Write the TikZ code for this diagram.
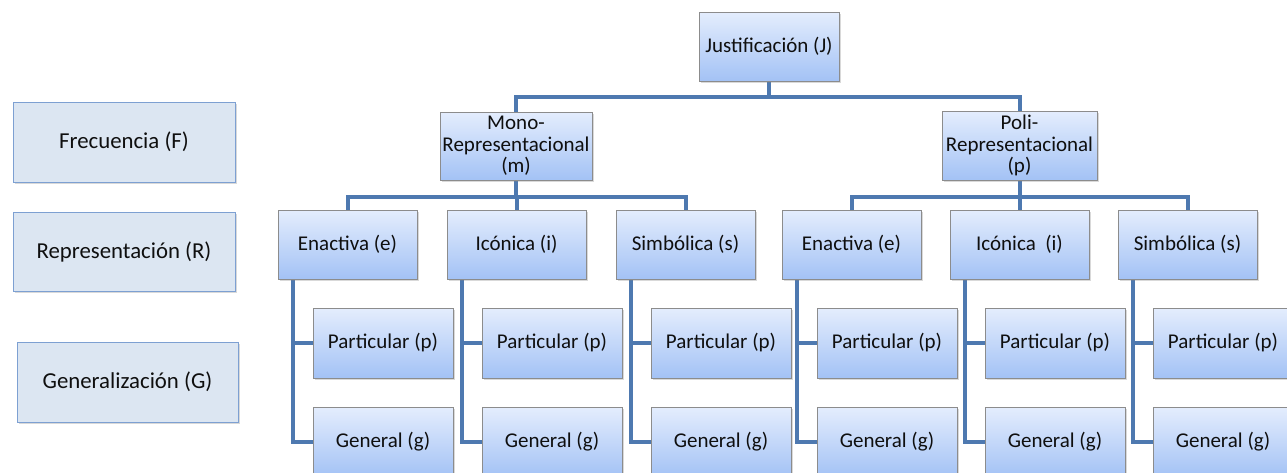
\documentclass[tikz,border=0pt]{standalone}
\usepackage{fontspec}
\setmainfont{Carlito}
\usetikzlibrary{shadows,backgrounds}
\definecolor{lineblue}{RGB}{78,121,176}
\definecolor{boxtop}{RGB}{228,237,253}
\definecolor{boxbot}{RGB}{163,194,245}
\definecolor{boxborder}{RGB}{140,140,140}
\definecolor{legfill}{RGB}{220,230,242}
\definecolor{legborder}{RGB}{125,160,210}
\definecolor{txt}{RGB}{15,15,15}
\begin{document}
\begin{tikzpicture}[x=1pt,y=-1pt,
  box/.style={draw=boxborder, line width=0.8pt, top color=boxtop, bottom color=boxbot,
    minimum width=139pt, minimum height=69pt, inner sep=0pt, align=center, text=txt,
    font=\fontsize{21}{21.5}\selectfont,
    drop shadow={shadow xshift=1.5pt, shadow yshift=-1.5pt, opacity=0.3}},
  legend/.style={draw=legborder, line width=1pt, fill=legfill,
    minimum width=222pt, minimum height=80pt, inner sep=0pt, align=center, text=txt,
    font=\fontsize{22.8}{24}\selectfont,
    drop shadow={shadow xshift=1.5pt, shadow yshift=-1.5pt, opacity=0.3}},
  conn/.style={draw=lineblue, line width=4pt}
]
\useasboundingbox (0,0) rectangle (1287,472);
\clip (0,0) rectangle (1287,472);

% legend
\node[legend] (F) at (124,142) {Frecuencia (F)};
\node[legend, minimum height=79pt] (R) at (124,251.5) {Representación (R)};
\node[legend, minimum width=221pt] (G) at (127.5,382) {Generalización (G)};

% top levels
\node[box, minimum width=140pt] (J) at (769,46.5) {Justificación (J)};
\node[box, minimum width=152pt, minimum height=68pt] (M) at (516,146) {Mono-\\Representacional\\(m)};
\node[box, minimum width=155pt] (P) at (1019.5,145.5) {Poli-\\Representacional\\(p)};

% level 2
\node[box] (E1) at (347.5,244.5) {Enactiva (e)};
\node[box] (I1) at (516.5,244.5) {Icónica (i)};
\node[box] (S1) at (685.5,244.5) {Simbólica (s)};
\node[box] (E2) at (851.5,244.5) {Enactiva (e)};
\node[box] (I2) at (1019.5,244.5) {Icónica~~(i)};
\node[box] (S2) at (1187.5,244.5) {Simbólica (s)};

% level 3
\foreach \p/\x in {E1/347.5,I1/516.5,S1/685.5,E2/851.5,I2/1019.5,S2/1187.5}{
  \node[box, minimum width=140pt, minimum height=70pt] (\p p) at (\x+35.5,343) {Particular (p)};
  \node[box, minimum width=140pt, minimum height=70pt] (\p g) at (\x+35.5,442) {General (g)};
}

\begin{scope}[on background layer]
\draw[conn] (J.south) -- ++(0,16) -| (M.north);
\draw[conn] (J.south) -- ++(0,16) -| (P.north);
\foreach \a in {E1,I1,S1}{
  \draw[conn] (M.south) -- ++(0,17) -| (\a.north);
}
\foreach \a in {E2,I2,S2}{
  \draw[conn] (P.south) -- ++(0,17) -| (\a.north);
}
\foreach \a in {E1,I1,S1,E2,I2,S2}{
  \draw[conn] ([xshift=15pt]\a.south west) |- (\a p.west);
  \draw[conn] ([xshift=15pt]\a.south west) |- (\a g.west);
}
\end{scope}
\end{tikzpicture}
\end{document}
